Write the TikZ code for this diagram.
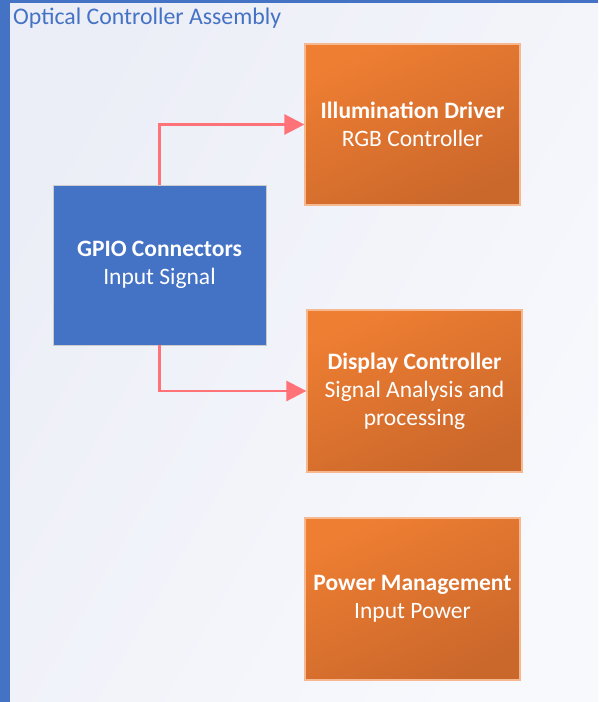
\documentclass[tikz,border=0pt]{standalone}
\usepackage{fontspec}
\setmainfont{Carlito}
\usetikzlibrary{arrows.meta}
\definecolor{accblue}{HTML}{4472C4}
\definecolor{orangeA}{HTML}{EE7E32}
\definecolor{orangeM}{HTML}{D46D2C}
\definecolor{orangeB}{HTML}{CA672B}
\definecolor{arrowred}{HTML}{FF7278}
\definecolor{bgA}{HTML}{F8F9FD}
\definecolor{bgB}{HTML}{ECEEF7}
\tikzset{
  orangebox/.style={rectangle, draw=orangeA!55!white, line width=1.2pt, top color=orangeA, middle color=orangeM, bottom color=orangeB, shading angle=25,
    minimum width=215pt, minimum height=161pt, text=white, align=center, font=\fontsize{23.5}{28}\selectfont, inner sep=0pt},
  bluebox/.style={rectangle, draw=black!20, line width=0.8pt, fill=accblue,
    minimum width=213pt, minimum height=160pt, text=white, align=center, font=\fontsize{23.5}{28}\selectfont, inner sep=0pt},
  conn/.style={draw=arrowred, line width=2.6pt, -{Triangle[length=20pt,width=20pt]}}
}
\begin{document}
\begin{tikzpicture}[x=1pt,y=-1pt]
\useasboundingbox (0,0) rectangle (598,702);
\shade[left color=bgB, right color=bgA, shading angle=60] (0,0) rectangle (598,702);
\fill[accblue] (0,0) rectangle (10,702);
\fill[accblue] (0,0) rectangle (598,3);
\node[anchor=west, text=accblue, font=\fontsize{23.8}{28}\selectfont, inner sep=0pt] (title) at (13,18) {Optical Controller Assembly};
\node[orangebox] (illum) at (412.5,124.5) {\textbf{Illumination Driver}\\RGB Controller};
\node[bluebox] (gpio) at (159.5,265) {\textbf{GPIO Connectors}\\Input Signal};
\node[orangebox, minimum height=162pt] (disp) at (414.5,391) {\textbf{Display Controller}\\Signal Analysis and\\processing};
\node[orangebox, minimum height=162pt] (power) at (412.5,599) {\textbf{Power Management}\\Input Power};
\draw[conn] (gpio.north) |- (illum.west);
\draw[conn] (gpio.south) |- (disp.west);
\end{tikzpicture}
\end{document}
